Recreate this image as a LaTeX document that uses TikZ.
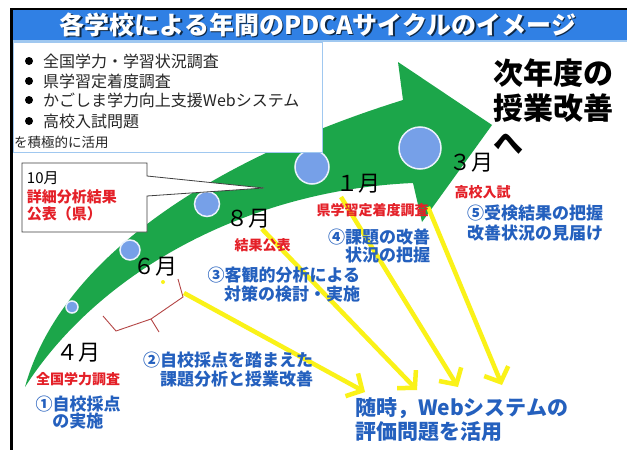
\documentclass[tikz,border=0pt]{standalone}
\usepackage{fontspec}
\newfontfamily\jp{Noto Sans CJK JP}
\usetikzlibrary{arrows.meta}
\definecolor{tbar}{RGB}{48,128,228}
\definecolor{tline}{RGB}{160,200,240}
\definecolor{grn}{RGB}{28,166,74}
\definecolor{dotc}{RGB}{118,160,232}
\definecolor{jred}{RGB}{228,32,40}
\definecolor{jblue}{RGB}{36,96,190}
\definecolor{ylw}{RGB}{250,242,24}
\definecolor{brace}{RGB}{180,70,70}
\newcommand{\fsz}[2]{\fontsize{#1}{#2}\selectfont}
\begin{document}
\begin{tikzpicture}[x=1pt,y=-1pt,
  every node/.style={inner sep=0pt, outer sep=0pt},
  monthl/.style={font=\jp\fsz{22}{22}, text=black},
  redl/.style={font=\jp\bfseries\fsz{14}{14}, text=jred},
  bluel/.style={font=\jp\bfseries\fsz{17}{19}, text=jblue},
  bullt/.style={font=\jp\fsz{16}{16}, text=black!85, anchor=west},
  dotcirc/.style={circle, fill=dotc, draw=white!85!dotc, line width=1.5pt},
  yarrow/.style={draw=ylw, line width=4.5pt, -{Straight Barb[length=12pt,width=26pt]}}
]
\useasboundingbox (0,0) rectangle (627,450);
\fill[white] (0,0) rectangle (627,450);

% green curved arrow
\fill[grn] (25,387) .. controls (60,260) and (210,160) .. (403,100)
  -- (398,62) -- (492,125) -- (422,222) -- (413,183)
  .. controls (250,190) and (100,270) .. (25,387) -- cycle;

% circles on the arrow
\node[dotcirc, minimum size=12pt] (c1) at (72,307) {};
\node[dotcirc, minimum size=20pt] (c2) at (130,250) {};
\node[dotcirc, minimum size=25pt] (c3) at (207,204) {};
\node[dotcirc, minimum size=34pt] (c4) at (312,167) {};
\node[dotcirc, minimum size=42pt] (c5) at (420,148) {};

% top-left box
\draw[fill=white, draw=tline, line width=0.8pt] (13,42) rectangle (322,152);
\fill[black] (29,61) circle (4);
\fill[black] (29,81) circle (4);
\fill[black] (29,100) circle (4);
\fill[black] (29,121) circle (4);
\node[bullt] (b1) at (43,61) {全国学力・学習状況調査};
\node[bullt] (b2) at (43,81) {県学習定着度調査};
\node[bullt] (b3) at (43,100) {かごしま学力向上支援Webシステム};
\node[bullt] (b4) at (43,121) {高校入試問題};
\node[font=\jp\fsz{13.5}{14}, text=black!85, anchor=west] (b5) at (14,142) {を積極的に活用};

% title bar and frame
\fill[tbar] (12,10) rectangle (627,40);
\draw[tline, line width=1.5pt] (12,41) -- (627,41);
\draw[black, line width=2.5pt] (10,9) -- (627,9);
\draw[black, line width=3pt] (11.5,8) -- (11.5,450);
\node[font=\jp\bfseries\fsz{25}{25}, text=black!70!tbar] at (319.5,26) {各学校による年間のPDCAサイクルのイメージ};
\node[font=\jp\bfseries\fsz{25}{25}, text=white] (title) at (318,25) {各学校による年間のPDCAサイクルのイメージ};

% callout
\draw[fill=white, draw=black!75, line width=0.8pt]
  (22,163) -- (147,163) -- (147,176) -- (264,188) -- (147,196) -- (147,232) -- (22,232) -- cycle;
\node[font=\jp\fsz{15}{15}, anchor=west] (co1) at (27,178) {10月};
\node[redl, font=\jp\bfseries\fsz{15}{15}, anchor=west] (co2) at (27,197) {詳細分析結果};
\node[redl, font=\jp\bfseries\fsz{15}{15}, anchor=west] (co3) at (27,214) {公表（県）};

% brace
\draw[brace, line width=0.9pt] (103,316) -- (116,331) -- (151,319) -- (159,332);
\draw[brace, line width=0.9pt] (151,319) -- (183,297) -- (178,279);
\fill[ylw] (163,282) circle (2);

% yellow arrows
\coordinate (y1s) at (184,293);
\coordinate (y2s) at (262,229);
\coordinate (y3s) at (341,197);
\coordinate (y4s) at (428,207);
\coordinate (y1e) at (365,392);
\coordinate (y2e) at (417,390);
\coordinate (y3e) at (458,387);
\coordinate (y4e) at (502,385);
\draw[yarrow] (y1s) -- (y1e);
\draw[yarrow] (y2s) -- (y2e);
\draw[yarrow] (y3s) -- (y3e);
\draw[yarrow] (y4s) -- (y4e);

% months
\node[monthl] (m4) at (78.5,352.5) {４月};
\node[monthl] (m6) at (155,267) {６月};
\node[monthl] (m8) at (248.5,219) {８月};
\node[monthl] (m1) at (358.5,184) {１月};
\node[monthl] (m3) at (471.5,163) {３月};

% red labels
\node[redl] (r4) at (78,379) {全国学力調査};
\node[redl] (r8) at (262.5,245) {結果公表};
\node[redl] (r1) at (372.5,210) {県学習定着度調査};
\node[redl] (r3) at (482.5,192) {高校入試};

% blue labels
\node[bluel, font=\jp\bfseries\fsz{17}{16.5}, align=center] (s1) at (78,412.5) {①自校採点\\の実施};
\node[bluel, align=right, anchor=east] (s2) at (313,370) {②自校採点を踏まえた\\課題分析と授業改善};
\node[bluel, align=right, anchor=east] (s3) at (360,285) {③客観的分析による\\対策の検討・実施};
\node[bluel, font=\jp\bfseries\fsz{17}{18}, align=right, anchor=east] (s4) at (430,246.5) {④課題の改善\\状況の把握};
\node[bluel, font=\jp\bfseries\fsz{17}{20}, align=left, anchor=west] (s5) at (467,223.5) {⑤受検結果の把握\\改善状況の見届け};
\node[bluel, font=\jp\bfseries\fsz{21}{24}, align=left, anchor=west] (web) at (355,420) {随時，Webシステムの\\評価問題を活用};

% next year
\node[font=\jp\bfseries\fsz{30}{35}, align=left, anchor=west, text=black] (next) at (493,106.5) {次年度の\\授業改善\\へ};
\end{tikzpicture}
\end{document}
